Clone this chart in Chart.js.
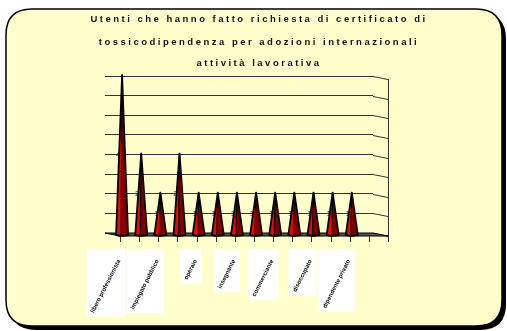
<!DOCTYPE html>
<html>
<head>
<meta charset="utf-8">
<script src="https://cdn.jsdelivr.net/npm/chart.js@4/dist/chart.umd.min.js"></script>
<style>
  html, body { margin: 0; padding: 0; background: #ffffff; }
  #wrap { width: 507px; height: 331px; }
</style>
</head>
<body>
<div id="wrap"><canvas id="c" width="507" height="331"></canvas></div>
<script>
// Chart text
const titleLines = [
  'Utenti che hanno fatto richiesta di certificato di',
  'tossicodipendenza per adozioni internazionali',
  'attività lavorativa'
];

// Work activity categories
const categories = [
  'libero professionista', 'medico', 'impiegato pubblico', 'artigiano',
  'operaio', 'militare', 'insegnante', 'infermiere', 'commerciante',
  'pensionato', 'disoccupato', 'casalinga', 'dipendente privato', 'altro'
];

// Number of users per category
const utenti = [4, 2, 1, 2, 1, 1, 1, 1, 1, 1, 1, 1, 1, 0];

// Value axis range and grid step
const valueMin = 0;
const valueMax = 4;
const valueStep = 0.5;

const FONT = '"Liberation Sans", Arial, sans-serif';
const DEPTH_X = 15;   // horizontal shift of the front floor edge
const DEPTH_Y = 3;    // vertical shift of the front floor edge

function roundRect(ctx, x, y, w, h, r) {
  ctx.beginPath();
  ctx.moveTo(x + r, y);
  ctx.lineTo(x + w - r, y);
  ctx.quadraticCurveTo(x + w, y, x + w, y + r);
  ctx.lineTo(x + w, y + h - r);
  ctx.quadraticCurveTo(x + w, y + h, x + w - r, y + h);
  ctx.lineTo(x + r, y + h);
  ctx.quadraticCurveTo(x, y + h, x, y + h - r);
  ctx.lineTo(x, y + r);
  ctx.quadraticCurveTo(x, y, x + r, y);
  ctx.closePath();
}

// Rounded pale-yellow panel with a drop shadow, plus the title
const panelPlugin = {
  id: 'panel',
  beforeDraw(chart) {
    const ctx = chart.ctx;
    ctx.save();
    ctx.fillStyle = '#000000';
    roundRect(ctx, 10, 13, 496, 317, 26);
    ctx.fill();
    ctx.fillStyle = '#FFFFCC';
    roundRect(ctx, 6, 9, 496, 317, 26);
    ctx.fill();
    ctx.lineWidth = 1.5;
    ctx.strokeStyle = '#000000';
    ctx.stroke();

    ctx.fillStyle = '#111111';
    ctx.font = 'bold 9.5px ' + FONT;
    ctx.textAlign = 'center';
    ctx.textBaseline = 'middle';
    if ('letterSpacing' in ctx) ctx.letterSpacing = '2.5px';
    const ys = [19, 42, 63];
    titleLines.forEach((t, i) => ctx.fillText(t, 259, ys[i]));
    if ('letterSpacing' in ctx) ctx.letterSpacing = '0px';
    ctx.restore();
  }
};

// Side wall, floor, ticks, pyramids, value labels and category labels
const pyramidPlugin = {
  id: 'pyramids',
  afterDatasetsDraw(chart) {
    const ctx = chart.ctx;
    const xs = chart.scales.x;
    const ys = chart.scales.y;
    const area = chart.chartArea;
    const base = ys.getPixelForValue(valueMin);
    ctx.save();

    // right side wall
    ctx.strokeStyle = '#333333';
    ctx.lineWidth = 1;
    for (let v = valueMin; v <= valueMax + 1e-9; v += valueStep) {
      const y = Math.round(ys.getPixelForValue(v)) + 0.5;
      ctx.beginPath();
      ctx.moveTo(area.right, y);
      ctx.lineTo(area.right + DEPTH_X, y + DEPTH_Y);
      ctx.stroke();
    }
    ctx.beginPath();
    ctx.moveTo(area.right + DEPTH_X + 0.5, ys.getPixelForValue(valueMax) + DEPTH_Y);
    ctx.lineTo(area.right + DEPTH_X + 0.5, base + DEPTH_Y);
    ctx.stroke();

    // floor
    ctx.fillStyle = '#555555';
    ctx.beginPath();
    ctx.moveTo(area.left, base);
    ctx.lineTo(area.right, base);
    ctx.lineTo(area.right + DEPTH_X, base + DEPTH_Y);
    ctx.lineTo(area.left + DEPTH_X, base + DEPTH_Y);
    ctx.closePath();
    ctx.fill();
    ctx.strokeStyle = '#000000';
    ctx.lineWidth = 1;
    ctx.stroke();

    // category tick marks on the front edge
    const n = chart.data.labels.length;
    const catW = (area.right - area.left) / n;
    ctx.strokeStyle = '#333333';
    for (let i = 0; i <= n; i++) {
      const x = Math.round(area.left + DEPTH_X + i * catW) + 0.5;
      ctx.beginPath();
      ctx.moveTo(x, base + DEPTH_Y);
      ctx.lineTo(x, base + DEPTH_Y + 6);
      ctx.stroke();
    }

    const meta = chart.getDatasetMeta(0);
    const data = chart.data.datasets[0].data;

    // value labels (sit behind the pyramids)
    ctx.fillStyle = '#333333';
    ctx.font = '8px ' + FONT;
    ctx.textAlign = 'center';
    ctx.textBaseline = 'middle';
    meta.data.forEach((el, i) => {
      if (!data[i]) return;
      const cx = el.x + DEPTH_X / 2;
      ctx.fillText(String(data[i]), cx - 4, (el.y + base) / 2);
    });

    // pyramids
    const hw = 6;
    meta.data.forEach((el, i) => {
      if (!data[i]) return;
      const cx = el.x + DEPTH_X / 2;
      const top = el.y - 1;
      const b = base + 2;
      ctx.fillStyle = '#FF0000';
      ctx.beginPath();
      ctx.moveTo(cx - hw, b);
      ctx.lineTo(cx, top);
      ctx.lineTo(cx - 1, b + 1);
      ctx.closePath();
      ctx.fill();
      ctx.fillStyle = '#800000';
      ctx.beginPath();
      ctx.moveTo(cx - 1, b + 1);
      ctx.lineTo(cx, top);
      ctx.lineTo(cx + hw, b);
      ctx.closePath();
      ctx.fill();
      ctx.strokeStyle = '#000000';
      ctx.lineWidth = 1.8;
      ctx.lineJoin = 'round';
      ctx.beginPath();
      ctx.moveTo(cx - hw, b);
      ctx.lineTo(cx, top);
      ctx.lineTo(cx + hw, b);
      ctx.lineTo(cx - 1, b + 1);
      ctx.closePath();
      ctx.stroke();
      ctx.lineWidth = 1.3;
      ctx.beginPath();
      ctx.moveTo(cx, top);
      ctx.lineTo(cx - 1, b + 1);
      ctx.stroke();
    });

    // rotated category labels on white boxes (every second category)
    const ang = 63 * Math.PI / 180;
    ctx.font = 'bold 6px ' + FONT;
    const items = [];
    meta.data.forEach((el, i) => {
      if (i % 2 !== 0) return;
      const text = chart.data.labels[i];
      const w = ctx.measureText(text).width;
      const ex = el.x + DEPTH_X / 2 - 3;
      const ey = base + 27;
      const dx = w * Math.cos(ang), dy = w * Math.sin(ang);
      items.push({ text, ex, ey, dx, dy });
    });
    ctx.fillStyle = '#FFFFFF';
    items.forEach(it => {
      ctx.fillRect(it.ex - it.dx - 6, it.ey - 11, it.dx + 12, it.dy + 15);
    });
    ctx.fillStyle = '#000000';
    ctx.textAlign = 'right';
    ctx.textBaseline = 'middle';
    items.forEach(it => {
      ctx.save();
      ctx.translate(it.ex, it.ey);
      ctx.rotate(-ang);
      ctx.fillText(it.text, 0, 0);
      ctx.restore();
    });

    ctx.restore();
  }
};

new Chart(document.getElementById('c'), {
  type: 'bar',
  data: {
    labels: categories,
    datasets: [{
      data: utenti,
      backgroundColor: 'rgba(0,0,0,0)',
      borderWidth: 0
    }]
  },
  options: {
    responsive: false,
    devicePixelRatio: 1,
    animation: false,
    events: [],
    layout: { padding: { left: 105, right: 134, top: 76, bottom: 98 } },
    plugins: { legend: { display: false }, tooltip: { enabled: false }, title: { display: false } },
    scales: {
      x: {
        grid: { display: false, drawTicks: false },
        border: { display: false },
        ticks: { display: false },
        afterFit(s) { s.height = 0; }
      },
      y: {
        min: valueMin,
        max: valueMax,
        grid: { color: '#333333', lineWidth: 1, drawTicks: false },
        border: { display: false },
        ticks: { display: false, stepSize: valueStep },
        afterFit(s) { s.width = 0; }
      }
    }
  },
  plugins: [panelPlugin, pyramidPlugin]
});
</script>
</body>
</html>
